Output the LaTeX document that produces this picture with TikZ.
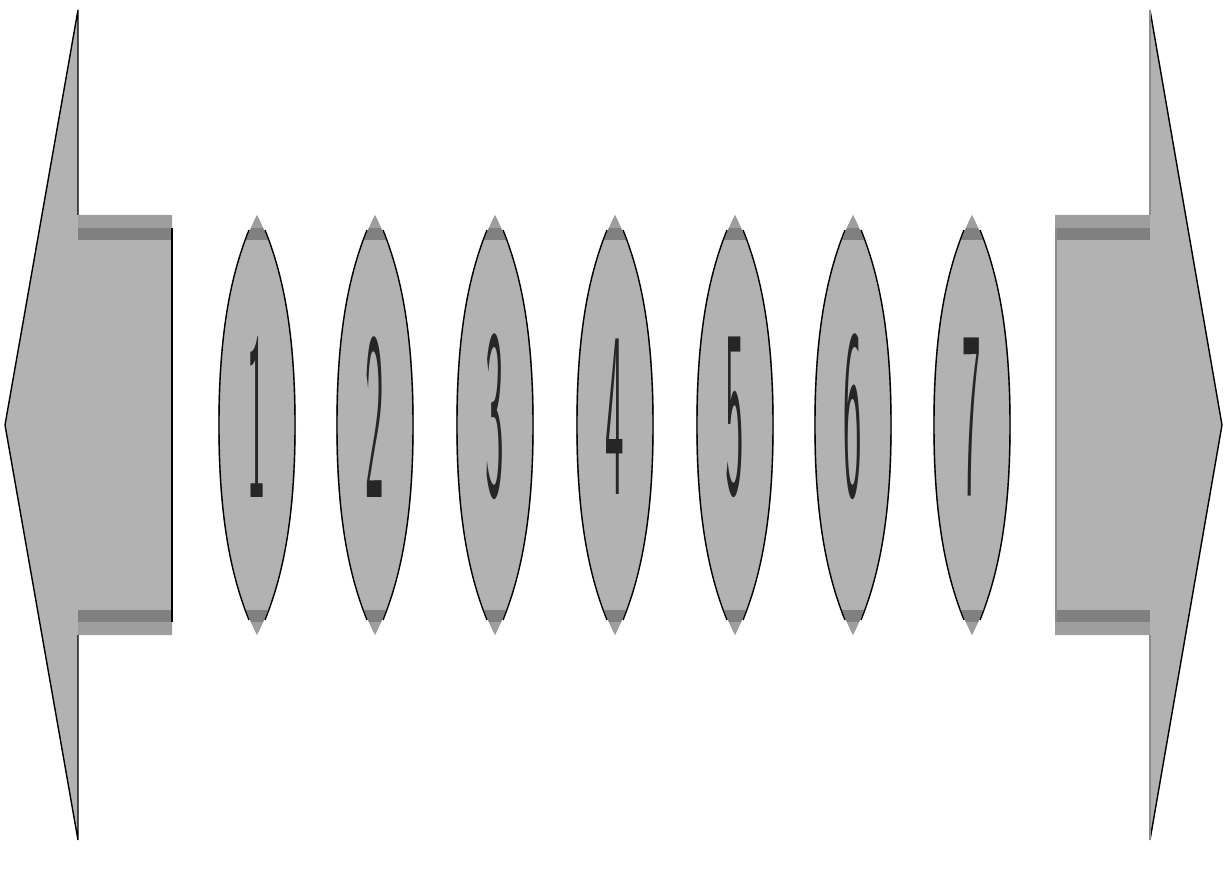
\documentclass[tikz,border=0pt]{standalone}
\usetikzlibrary{calc}

\begin{document}
\begin{tikzpicture}[
  x=0.02cm, y=-0.02cm,
  body/.style={fill=black!30, draw=none},
  rim/.style={draw=black, thick, line join=miter},
  band/.style={fill=black!50, draw=none},
  lens/.style={draw=black, thick},
  digit/.style={inner sep=0pt, text=black!85},
]
  \useasboundingbox (0,0) rectangle (1225,882);

  % left arrow
  \fill[body] (78,10) -- (5,425) -- (78,840) -- (78,635) -- (172,635)
    -- (172,215) -- (78,215) -- cycle;
  \fill[black!38] (78,215) rectangle (172,228);
  \fill[band] (78,228) rectangle (172,240);
  \fill[band] (78,610) rectangle (172,622);
  \fill[black!38] (78,622) rectangle (172,635);
  \draw[rim] (78,215) -- (78,10) -- (5,425) -- (78,840) -- (78,635);
  \draw[rim] (172,228) -- (172,622);

  % right arrow
  \fill[body] (1150,10) -- (1222,425) -- (1150,840) -- (1150,635) -- (1055,635)
    -- (1055,215) -- (1150,215) -- cycle;
  \fill[black!38] (1055,215) rectangle (1150,228);
  \fill[band] (1055,228) rectangle (1150,240);
  \fill[band] (1055,610) rectangle (1150,622);
  \fill[black!38] (1055,622) rectangle (1150,635);
  \draw[rim] (1150,10) -- (1222,425) -- (1150,840);
  \draw[black!45, thick] (1150,10) -- (1150,215) (1150,635) -- (1150,840);
  \draw[black!45, thick] (1056,228) -- (1056,622);

  % lenses with numbers
  \foreach \i/\x in {1/257, 2/375, 3/495, 4/615, 5/735, 6/853, 7/972} {
    \coordinate (c\i) at (\x,425);
    \begin{scope}
      \clip ($(c\i)+(0,-210)$) .. controls +(20,40) and +(0,-110) .. ($(c\i)+(39,0)$)
        .. controls +(0,110) and +(20,-40) .. ($(c\i)+(0,210)$)
        .. controls +(-20,-40) and +(0,110) .. ($(c\i)+(-39,0)$)
        .. controls +(0,-110) and +(-20,40) .. ($(c\i)+(0,-210)$);
      \fill[black!30] ($(c\i)+(-45,-212)$) rectangle ($(c\i)+(45,212)$);
      \fill[black!38] ($(c\i)+(-45,-212)$) rectangle ($(c\i)+(45,-197)$);
      \fill[band] ($(c\i)+(-45,-197)$) rectangle ($(c\i)+(45,-185)$);
      \fill[band] ($(c\i)+(-45,185)$) rectangle ($(c\i)+(45,197)$);
      \fill[black!38] ($(c\i)+(-45,197)$) rectangle ($(c\i)+(45,212)$);
    \end{scope}
    \draw[lens] ($(c\i)+(-8,-195)$) .. controls +(-16,40) and +(0,-100) .. ($(c\i)+(-38,0)$)
      .. controls +(0,100) and +(-16,-40) .. ($(c\i)+(-8,195)$);
    \draw[lens] ($(c\i)+(8,-195)$) .. controls +(16,40) and +(0,-100) .. ($(c\i)+(38,0)$)
      .. controls +(0,100) and +(16,-40) .. ($(c\i)+(8,195)$);
    \node[digit] (d\i) at ($(c\i)+(0,-8)$) {\scalebox{2.1}[13.5]{\sffamily \i}};
  }
\end{tikzpicture}
\end{document}
